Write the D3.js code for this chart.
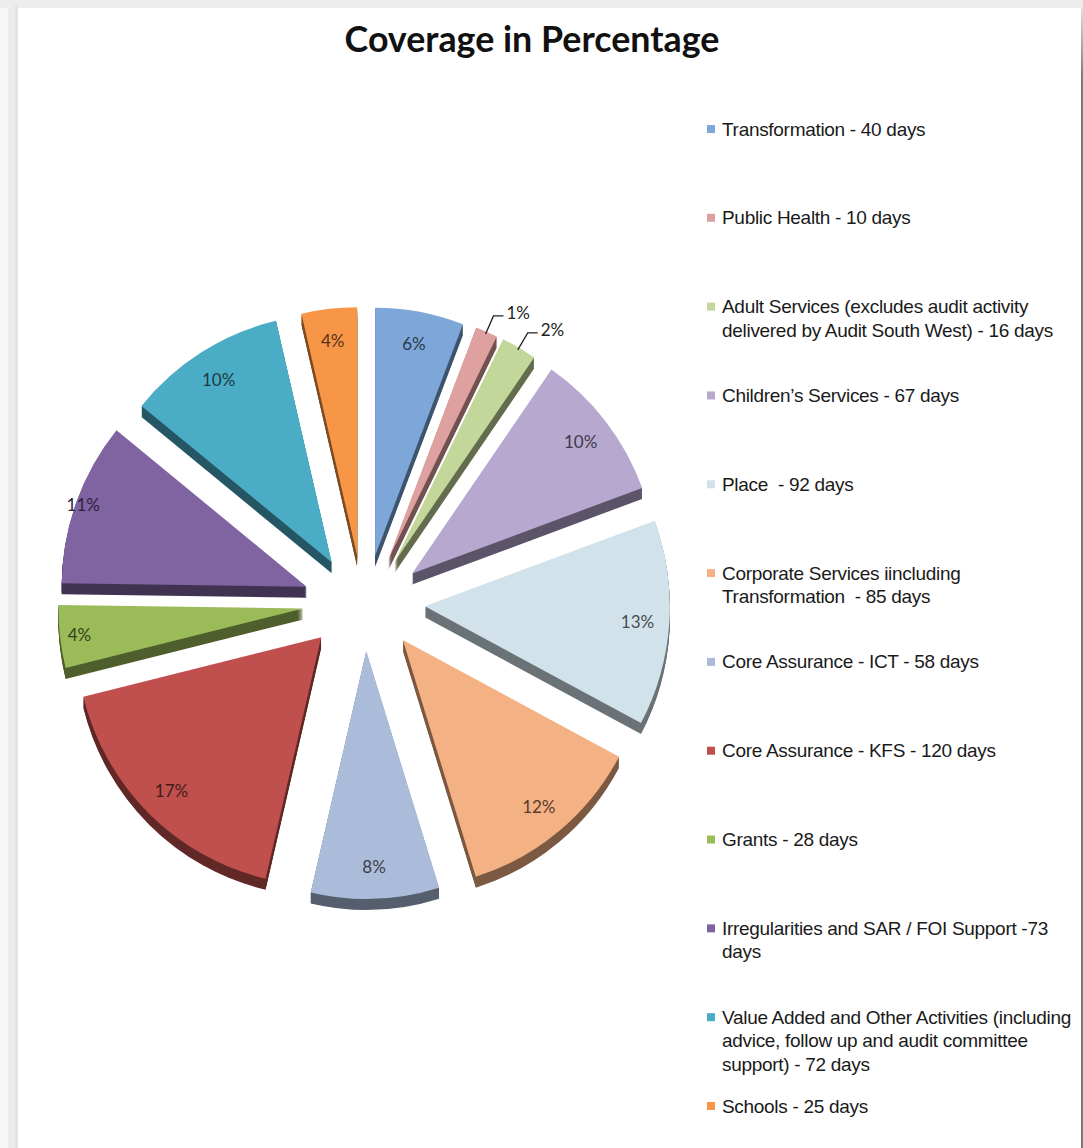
<!DOCTYPE html>
<html>
<head>
<meta charset="utf-8">
<script src="https://cdn.jsdelivr.net/npm/d3@7"></script>
<style>
  body { margin: 0; background: #f6f6f6; }
  svg { display: block; }
  .legend text { font-family: "Liberation Sans", Arial, sans-serif; font-size: 19px; fill: #1a1a1a; letter-spacing: -0.3px; white-space: pre; }
  .pct { font-family: Lato, "Open Sans", sans-serif; font-size: 17px; }
</style>
</head>
<body>
<svg id="chart" width="1083" height="1148"></svg>
<script>
// legend text (line breaks as in the original chart)
const categories = [
  'Transformation - 40 days',
  'Public Health - 10 days',
  'Adult Services (excludes audit activity\ndelivered by Audit South West) - 16 days',
  'Children\u2019s Services - 67 days',
  'Place  - 92 days',
  'Corporate Services iincluding\nTransformation  - 85 days',
  'Core Assurance - ICT - 58 days',
  'Core Assurance - KFS - 120 days',
  'Grants - 28 days',
  'Irregularities and SAR / FOI Support -73\ndays',
  'Value Added and Other Activities (including\nadvice, follow up and audit committee\nsupport) - 72 days',
  'Schools - 25 days'
];
const days = [40, 10, 16, 67, 92, 85, 58, 120, 28, 73, 72, 25];
const sliceColors = [
  '#7da7d9', '#dea1a0', '#c4d79b', '#b6a8cf', '#d2e2ea', '#f4b183',
  '#aabcd9', '#c0504d', '#9bbb59', '#8064a2', '#4bacc6', '#f79646'
];
const title = 'Coverage in Percentage';

const svg = d3.select('#chart');
const width = 1083, height = 1148;

// page frame
svg.append('rect').attr('width', width).attr('height', height).attr('fill', '#f7f7f7');
svg.append('rect').attr('x', 8).attr('y', 0).attr('width', 10).attr('height', height).attr('fill', '#ececec');
svg.append('rect').attr('x', 0).attr('y', 0).attr('width', width).attr('height', 8).attr('fill', '#ededed');
svg.append('rect').attr('x', 15).attr('y', 5).attr('width', 3).attr('height', height).attr('fill', '#e4e4e4');
svg.append('rect').attr('x', 18).attr('y', 8).attr('width', 1063).attr('height', height).attr('fill', '#ffffff');
const edge = svg.append('defs').append('linearGradient').attr('id', 'edge').attr('x1', 0).attr('x2', 0).attr('y1', 0).attr('y2', 1);
edge.append('stop').attr('offset', '0').attr('stop-color', '#e0e0e0');
edge.append('stop').attr('offset', '0.06').attr('stop-color', '#7a7a7a');
edge.append('stop').attr('offset', '1').attr('stop-color', '#7a7a7a');
svg.append('rect').attr('x', 1081).attr('y', 8).attr('width', 2).attr('height', height).attr('fill', 'url(#edge)');

// title
const titleText = svg.append('text')
  .attr('x', 532).attr('y', 52)
  .attr('text-anchor', 'middle')
  .style('font-family', 'Lato, "Open Sans", sans-serif')
  .style('font-weight', 'bold')
  .style('font-size', '33px')
  .attr('fill', '#111')
  .text(title);
const tw = titleText.node().getComputedTextLength();
titleText.style('font-size', (33 * 375 / tw).toFixed(2) + 'px');

// pie geometry
const cx = 364, cy = 603;
const rx = 245, ry = 248;
const ky = ry / rx;
const explodeX = 61, explodeY = 48;
const thick = 11;
const total = d3.sum(days);

const pie = d3.pie().sort(null).value(d => d)(days);
const arc = d3.arc().innerRadius(0).outerRadius(rx);

const mid = d => (d.startAngle + d.endAngle) / 2;
const offset = d => [cx + explodeX * Math.sin(mid(d)), cy - explodeY * Math.cos(mid(d))];

const pieG = svg.append('g');
const slices = pieG.selectAll('g.slice')
  .data(pie)
  .enter().append('g')
  .attr('class', 'slice')
  .attr('transform', d => 'translate(' + offset(d) + ')');

// extruded sides
slices.each(function(d, i) {
  const g = d3.select(this);
  const side = d3.color(sliceColors[i]).darker(1.9);
  for (let t = thick; t >= 1; t--) {
    g.append('path')
      .attr('d', arc(d))
      .attr('fill', side)
      .attr('transform', 'translate(0,' + t + ') scale(1,' + ky + ')');
  }
});

// top faces
slices.append('path')
  .attr('d', d => arc(d))
  .attr('fill', (d, i) => sliceColors[i])
  .attr('transform', 'scale(1,' + ky + ')');

// percentage labels
const pct = d => Math.round(d.value / total * 100) + '%';
const at = (d, r) => {
  const o = offset(d), a = mid(d);
  return [o[0] + r * Math.sin(a), o[1] - r * ky * Math.cos(a)];
};

pie.forEach((d, i) => {
  const share = d.value / total;
  const col = d3.color(sliceColors[i]).darker(3);
  if (share >= 0.03) {
    // labels on the left side sit closer to the rim
    const a = mid(d);
    let rf = 0.87;
    if (a > 4.3 && a < 4.9) rf = 0.92;
    else if (a >= 4.9 && a < 5.2) rf = 0.97;
    const p = at(d, rx * rf);
    pieG.append('text')
      .attr('class', 'pct')
      .attr('x', p[0]).attr('y', p[1])
      .attr('text-anchor', 'middle')
      .attr('dominant-baseline', 'central')
      .attr('fill', col)
      .text(pct(d));
  } else {
    const p0 = at(d, rx * 0.99);
    const p1 = at(d, rx * 1.07);
    const p2 = [p1[0] + 10, p1[1]];
    pieG.append('path')
      .attr('d', d3.line()([p0, p1, p2]))
      .attr('fill', 'none')
      .attr('stroke', '#222')
      .attr('stroke-width', 1.3);
    pieG.append('text')
      .attr('class', 'pct')
      .attr('x', p2[0] + 3).attr('y', p2[1] - 3)
      .attr('dominant-baseline', 'central')
      .attr('fill', '#222')
      .text(pct(d));
  }
});

// legend
const legendY = d3.scalePoint().domain(categories).range([129, 1106]);
const legend = svg.append('g').attr('class', 'legend');
const items = legend.selectAll('g')
  .data(categories)
  .enter().append('g')
  .attr('transform', d => 'translate(0,' + legendY(d) + ')');

items.append('rect')
  .attr('x', 707).attr('y', -4)
  .attr('width', 8).attr('height', 8)
  .attr('fill', (d, i) => sliceColors[i]);

items.append('text')
  .attr('x', 722).attr('y', 6.5)
  .each(function(d) {
    const t = d3.select(this);
    d.split('\n').forEach((line, j) => {
      t.append('tspan')
        .attr('x', 722)
        .attr('dy', j === 0 ? 0 : 23.5)
        .text(line);
    });
  });
</script>
</body>
</html>
